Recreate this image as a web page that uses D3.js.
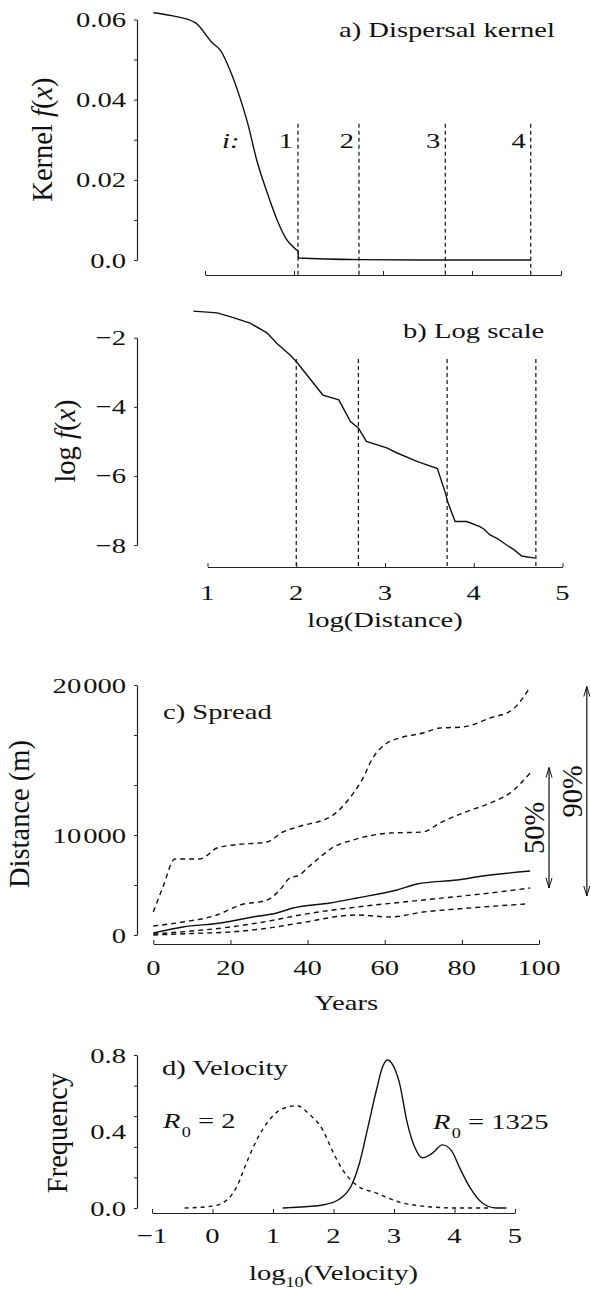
<!DOCTYPE html>
<html>
<head>
<meta charset="utf-8">
<script src="https://cdn.jsdelivr.net/npm/d3@7"></script>
<style>
  body { margin: 0; background: #fff; }
  svg { display: block; font-family: "Liberation Serif", "Times New Roman", serif; }
</style>
</head>
<body>
<div id="chart"></div>
<script>
// ---------- data ----------
// a) dispersal kernel: [log distance, f(x)]
const kernelPts = [[0.42,0.0617],[0.64,0.0609],[0.89,0.0592],[1.09,0.0540],[1.17,0.0524],[1.28,0.0474],
  [1.39,0.0407],[1.48,0.0341],[1.58,0.0250],[1.70,0.0167],[1.81,0.0100],[1.92,0.0050],[2.03,0.0025],
  [2.045,0.0022],[2.05,0.0005],[2.73,0.0001],[3.70,0.0],[4.66,0.0]];
const kernelMarks = [2.045, 2.73, 3.70, 4.66];
const kernelMarkNames = ["1", "2", "3", "4"];
const kernelYTicks = [0, 0.01, 0.02, 0.03, 0.04, 0.05, 0.06];
const kernelYLabels = [[0, "0.0"], [0.02, "0.02"], [0.04, "0.04"], [0.06, "0.06"]];
const distTicks = [1, 2, 3, 4, 5];

// b) log scale: [log distance, log f(x)]
const logKernelPts = [[0.84,-1.23],[1.11,-1.28],[1.29,-1.42],[1.48,-1.58],[1.67,-1.86],[1.78,-2.16],
  [1.93,-2.50],[2.00,-2.69],[2.30,-3.66],[2.48,-3.80],[2.61,-4.43],[2.70,-4.61],[2.79,-5.00],[3.02,-5.19],
  [3.13,-5.33],[3.36,-5.58],[3.59,-5.79],[3.68,-6.49],[3.71,-6.78],[3.79,-7.32],[3.92,-7.32],[4.07,-7.47],
  [4.12,-7.55],[4.18,-7.70],[4.27,-7.82],[4.37,-8.00],[4.46,-8.15],[4.54,-8.32],[4.69,-8.38]];
const logMarks = [2.0, 2.70, 3.70, 4.70];
const logYTicks = [-2, -4, -6, -8];

// c) spread: [years, distance m]
const spreadP95 = [[0,2300],[2.5,4800],[5.6,7600],[12.1,7600],[16.5,8700],[20.7,9000],[29.5,9300],[33.6,10200],
  [37.3,10530],[46.6,11330],[50.5,12330],[54.1,13670],[56.9,15130],[60.6,16130],[63.9,16470],[69.9,16800],
  [74.3,17130],[80.3,17200],[87.3,17800],[93,18330],[97.7,19870]];
const spreadP75 = [[0,900],[7.7,1300],[16.5,2000],[22.5,3000],[29.5,3500],[32.8,4500],[35.4,5700],[38,6000],
  [39.9,6700],[43.3,7800],[46.3,8700],[51.8,9500],[61.4,10130],[69.9,10200],[74.3,10800],[80.3,11470],
  [87.3,12130],[92.5,12800],[97.7,14130]];
const spreadMedian = [[0,200],[7.7,800],[17.3,1200],[25.8,1800],[32,2200],[36.2,2700],[45.8,3200],[52.8,3700],
  [63.2,4500],[68.4,5100],[78.7,5500],[85.5,5900],[97.7,6400]];
const spreadP25 = [[0,100],[10,400],[20,800],[30,1400],[38,2000],[52.8,2800],[70,3500],[87.3,4200],[97.7,4700]];
const spreadP5 = [[0,0],[10,150],[20,300],[30,700],[38,1200],[52.8,2000],[61.4,1800],[70,2300],[78.7,2600],[96.4,3100]];
const spreadBands = [
  { label: "50%", year: 102.6, lo: 4700, hi: 14500 },
  { label: "90%", year: 112.4, lo: 3900, hi: 19900 }
];
const yearTicks = [0, 20, 40, 60, 80, 100];
const spreadYDomain = [0, 10000, 20000];
const spreadYTicks = [0, 5000, 10000, 13333, 16667, 20000];
const spreadYLabels = [[0, "", "0"], [10000, "10", "000"], [20000, "20", "000"]];

// d) velocity: [log10 velocity, frequency]
const velR2 = [[-0.46,0],[0,0.01],[0.23,0.04],[0.40,0.11],[0.56,0.235],[0.73,0.355],[0.89,0.44],[1.06,0.50],
  [1.27,0.53],[1.40,0.535],[1.60,0.49],[1.82,0.41],[1.98,0.30],[2.15,0.20],[2.38,0.12],[2.71,0.078],
  [3.09,0.031],[3.47,0.01],[4.03,0.0],[4.6,0.0]];
const velR1325 = [[1.16,0],[1.27,0.002],[1.82,0.016],[2.10,0.047],[2.30,0.12],[2.43,0.235],[2.56,0.41],
  [2.71,0.617],[2.81,0.737],[2.89,0.774],[2.98,0.748],[3.09,0.654],[3.22,0.444],[3.34,0.32],[3.47,0.262],
  [3.64,0.288],[3.80,0.33],[3.95,0.30],[4.08,0.214],[4.25,0.11],[4.46,0.026],[4.69,0.0],[4.86,0.0]];
const velXTicks = [-1, 0, 1, 2, 3, 4, 5];
const velYTicks = [0, 0.16, 0.32, 0.48, 0.64, 0.8];
const velYLabels = [[0, "0.0"], [0.4, "0.4"], [0.8, "0.8"]];

// ---------- layout ----------
const W = 591, H = 1291;
const SX = 1.3, FS = 22, FSV = 28.5, INK = "#111";
const axisX = 137;

const svg = d3.select("#chart").append("svg").attr("width", W).attr("height", H);
svg.append("rect").attr("width", W).attr("height", H).attr("fill", "#fff");

function htext(g, x, y, anchor) {
  return g.append("text")
    .attr("transform", `translate(${x},${y}) scale(${SX},1)`)
    .attr("text-anchor", anchor || "start")
    .attr("font-size", FS)
    .attr("fill", INK);
}
function vtext(g, x, y) {
  return g.append("text")
    .attr("transform", `translate(${x},${y}) rotate(-90)`)
    .attr("text-anchor", "middle")
    .attr("font-size", FSV)
    .attr("fill", INK);
}
function fx(t, prefix) {
  t.append("tspan").text(prefix);
  t.append("tspan").attr("font-style", "italic").text("f");
  t.append("tspan").text("(");
  t.append("tspan").attr("font-style", "italic").text("x");
  t.append("tspan").text(")");
}
function xAxis(g, scale, y, ticks) {
  g.append("g").attr("transform", `translate(0,${y})`).attr("color", "#222")
    .call(d3.axisBottom(scale).tickValues(ticks).tickSizeInner(-4).tickSizeOuter(0).tickFormat(() => ""))
    .call(a => a.select(".domain").attr("stroke-width", 1.2));
}
function yAxis(g, scale, ticks) {
  g.append("g").attr("transform", `translate(${axisX},0)`).attr("color", "#222")
    .call(d3.axisLeft(scale).tickValues(ticks).tickSize(3).tickSizeOuter(0).tickFormat(() => ""))
    .call(a => a.select(".domain").attr("stroke-width", 1.2));
}
function yLabels(g, scale, labels) {
  labels.forEach(([v, s]) => htext(g, axisX - 11, scale(v) + 7.5, "end").text(s));
}
function xLabels(g, scale, y, ticks) {
  ticks.forEach(v => htext(g, scale(v), y, "middle").text(v < 0 ? "\u2212" + (-v) : String(v)));
}
function curve(g, pts, xs, ys, dash, type) {
  g.append("path")
    .datum(pts)
    .attr("fill", "none")
    .attr("stroke", INK)
    .attr("stroke-width", 1.4)
    .attr("stroke-dasharray", dash || null)
    .attr("d", d3.line().x(d => xs(d[0])).y(d => ys(d[1])).curve(type || d3.curveLinear));
}

// ---------- a) Dispersal kernel ----------
const gA = svg.append("g");
const xA = d3.scaleLinear().domain([1, 5]).range([205, 561]);
const yA = d3.scaleLinear().domain([0, 0.06]).range([260, 19.5]);
const axisYA = 275;
yAxis(gA, yA, kernelYTicks);
yLabels(gA, yA, kernelYLabels);
xAxis(gA, xA, axisYA, distTicks);
kernelMarks.forEach((m, i) => {
  gA.append("line").attr("x1", xA(m)).attr("x2", xA(m)).attr("y1", yA(0.034)).attr("y2", axisYA)
    .attr("stroke", INK).attr("stroke-width", 1.2).attr("stroke-dasharray", "4,3");
  htext(gA, xA(m) - 5, 148, "end").text(kernelMarkNames[i]);
});
htext(gA, 222, 148).attr("font-style", "italic").text("i:");
curve(gA, kernelPts, xA, yA, null, d3.curveMonotoneX);
htext(gA, 339, 37).text("a) Dispersal kernel");
fx(vtext(gA, 52, 139.5), "Kernel ");

// ---------- b) Log scale ----------
const gB = svg.append("g");
const xB = d3.scaleLinear().domain([1, 5]).range([207.5, 562.5]);
const yB = d3.scaleLinear().domain([-2, -8]).range([337.7, 545]);
const axisYB = 567;
yAxis(gB, yB, logYTicks);
yLabels(gB, yB, logYTicks.map(v => [v, "\u2212" + (-v)]));
xAxis(gB, xB, axisYB, distTicks);
xLabels(gB, xB, 600, distTicks);
logMarks.forEach(m => {
  gB.append("line").attr("x1", xB(m)).attr("x2", xB(m)).attr("y1", yB(-2.62)).attr("y2", axisYB)
    .attr("stroke", INK).attr("stroke-width", 1.2).attr("stroke-dasharray", "4,3");
});
curve(gB, logKernelPts, xB, yB);
htext(gB, 403, 338).text("b) Log scale");
htext(gB, (xB.range()[0] + xB.range()[1]) / 2, 627, "middle").text("log(Distance)");
fx(vtext(gB, 75, 441), "log ");

// ---------- c) Spread ----------
const gC = svg.append("g");
const xC = d3.scaleLinear().domain([0, 100]).range([153.3, 539]);
const yC = d3.scaleLinear().domain(spreadYDomain).range([935, 835, 685]);
const axisYC = 944;
yAxis(gC, yC, spreadYTicks);
spreadYLabels.forEach(([v, hi, lo]) => {
  const t = htext(gC, axisX - 11, yC(v) + 7.5, "end");
  t.append("tspan").text(hi);
  t.append("tspan").attr("dx", hi ? 1.5 : 0).text(lo);
});
xAxis(gC, xC, axisYC, yearTicks);
xLabels(gC, xC, 975, yearTicks);
[spreadP95, spreadP75, spreadP25, spreadP5].forEach(s => curve(gC, s, xC, yC, "5,4", d3.curveMonotoneX));
curve(gC, spreadMedian, xC, yC, null, d3.curveMonotoneX);
spreadBands.forEach(b => {
  const x = xC(b.year), y1 = yC(b.hi), y2 = yC(b.lo);
  gC.append("line").attr("x1", x).attr("x2", x).attr("y1", y1).attr("y2", y2)
    .attr("stroke", INK).attr("stroke-width", 1.2);
  gC.append("path")
    .attr("d", `M${x - 3},${y1 + 10}L${x},${y1}L${x + 3},${y1 + 10}M${x - 3},${y2 - 10}L${x},${y2}L${x + 3},${y2 - 10}`)
    .attr("fill", "none").attr("stroke", INK).attr("stroke-width", 1);
  vtext(gC, x - 5, (y1 + y2) / 2).text(b.label);
});
htext(gC, 163, 719).text("c) Spread");
htext(gC, (xC.range()[0] + xC.range()[1]) / 2, 1010, "middle").text("Years");
vtext(gC, 29, 814).text("Distance (m)");

// ---------- d) Velocity ----------
const gD = svg.append("g");
const xD = d3.scaleLinear().domain([-1, 5]).range([152, 515]);
const yD = d3.scaleLinear().domain([0, 0.8]).range([1208, 1055]);
const axisYD = 1213;
yAxis(gD, yD, velYTicks);
yLabels(gD, yD, velYLabels);
xAxis(gD, xD, axisYD, velXTicks);
xLabels(gD, xD, 1243, velXTicks);
curve(gD, velR2, xD, yD, "4,4", d3.curveMonotoneX);
curve(gD, velR1325, xD, yD, null, d3.curveMonotoneX);
htext(gD, 162, 1075).text("d) Velocity");

function r0(g, x, y, value) {
  const t = htext(g, x, y);
  t.append("tspan").attr("font-style", "italic").text("R");
  t.append("tspan").attr("font-size", 14).attr("dx", 1).attr("dy", 9).text("0");
  t.append("tspan").attr("dy", -9).text(" = " + value);
}
r0(gD, 163, 1128, "2");
r0(gD, 433, 1129, "1325");

const vx = htext(gD, (xD.range()[0] + xD.range()[1]) / 2, 1280, "middle");
vx.append("tspan").text("log");
vx.append("tspan").attr("font-size", 14).attr("dy", 7).text("10");
vx.append("tspan").attr("dy", -7).text("(Velocity)");
vtext(gD, 67, 1133).text("Frequency");
</script>
</body>
</html>
